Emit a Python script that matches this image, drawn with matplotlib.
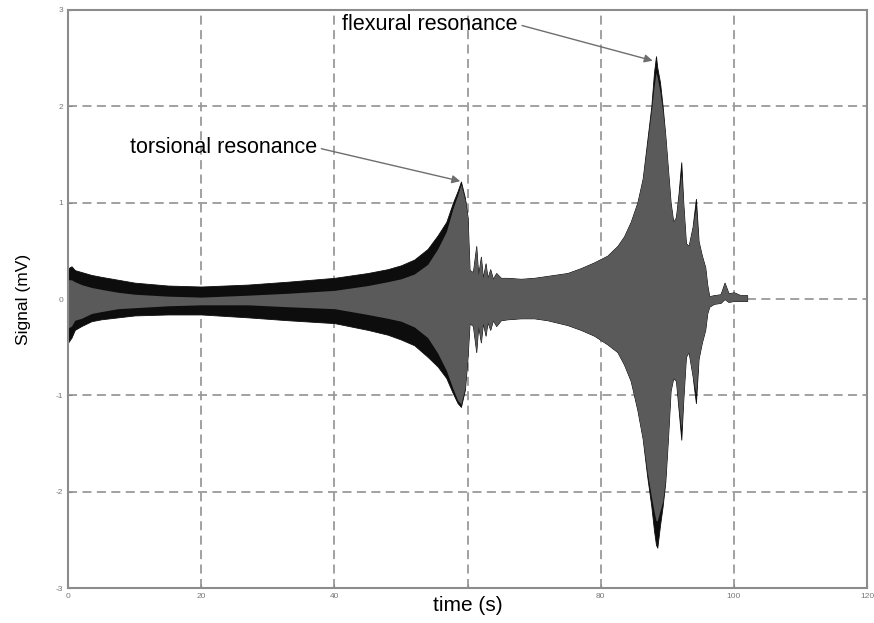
import matplotlib
matplotlib.use("Agg")
import matplotlib.pyplot as plt

# envelope of the recorded signal (outer edge, and inner lighter core)
t = [0.0, 0.5, 1.0, 2.0, 3.5, 5.0, 7.5, 10, 15, 20, 27, 33, 40, 45, 48, 50, 52, 54,
     55.5, 56.8, 57.8, 58.5, 59.0, 59.6, 60.0, 60.3, 60.8, 61.3, 61.6, 62.0, 62.3,
     62.7, 63.0, 63.4, 63.8, 64.3, 65, 66, 68, 70, 72, 75, 77, 79, 81, 82.5, 83.5,
     84.5, 85.5, 86.3, 87.0, 87.6, 88.0, 88.3, 88.5, 88.9, 89.3, 89.7, 90.1, 90.5,
     90.9, 91.3, 91.7, 92.1, 92.4, 92.8, 93.2, 93.8, 94.3, 94.7, 95.2, 95.7, 96.0,
     96.3, 97, 98, 98.6, 99.2, 100, 101, 102]
upper = [0.32, 0.34, 0.30, 0.28, 0.25, 0.23, 0.20, 0.17, 0.14, 0.13, 0.15, 0.18, 0.22,
         0.27, 0.31, 0.35, 0.41, 0.52, 0.66, 0.80, 1.00, 1.12, 1.22, 1.05, 0.85, 0.30,
         0.28, 0.55, 0.25, 0.44, 0.22, 0.37, 0.22, 0.31, 0.21, 0.27, 0.22, 0.22, 0.21,
         0.22, 0.24, 0.27, 0.32, 0.38, 0.45, 0.55, 0.65, 0.80, 1.00, 1.25, 1.65, 2.00,
         2.35, 2.52, 2.40, 2.25, 2.00, 1.70, 1.35, 1.00, 0.80, 0.85, 1.10, 1.42, 1.00,
         0.58, 0.55, 0.75, 1.04, 0.60, 0.45, 0.33, 0.15, 0.03, 0.04, 0.05, 0.17, 0.06,
         0.07, 0.04, 0.04]
lower = [-0.45, -0.40, -0.32, -0.28, -0.23, -0.21, -0.19, -0.17, -0.16, -0.16, -0.19,
         -0.22, -0.25, -0.32, -0.37, -0.42, -0.48, -0.60, -0.70, -0.82, -0.98, -1.08,
         -1.12, -0.94, -0.60, -0.25, -0.28, -0.55, -0.28, -0.45, -0.25, -0.38, -0.24,
         -0.32, -0.22, -0.28, -0.22, -0.21, -0.20, -0.20, -0.22, -0.27, -0.32, -0.38,
         -0.47, -0.55, -0.68, -0.85, -1.15, -1.45, -1.85, -2.15, -2.40, -2.55, -2.58,
         -2.35, -2.15, -1.90, -1.45, -0.95, -0.82, -0.85, -1.15, -1.46, -1.05, -0.60,
         -0.55, -0.80, -1.08, -0.62, -0.45, -0.32, -0.15, -0.08, -0.05, -0.04, 0.00,
         -0.03, -0.02, -0.02, -0.02]
inner_upper = [0.20, 0.20, 0.18, 0.15, 0.12, 0.10, 0.07, 0.05, 0.03, 0.02, 0.04, 0.06,
               0.09, 0.14, 0.18, 0.21, 0.26, 0.36, 0.52, 0.70, 0.94, 1.08, 1.19, 1.03,
               0.85, 0.30, 0.28, 0.55, 0.25, 0.44, 0.22, 0.37, 0.22, 0.31, 0.21, 0.27,
               0.22, 0.22, 0.21, 0.22, 0.24, 0.27, 0.32, 0.38, 0.45, 0.55, 0.65, 0.80,
               1.00, 1.25, 1.62, 1.95, 2.20, 2.35, 2.30, 2.15, 1.95, 1.70, 1.35, 1.00,
               0.80, 0.85, 1.08, 1.30, 1.00, 0.58, 0.55, 0.75, 0.95, 0.60, 0.45, 0.33,
               0.15, 0.03, 0.04, 0.05, 0.17, 0.06, 0.07, 0.04, 0.04]
inner_lower = [-0.30, -0.28, -0.22, -0.20, -0.15, -0.13, -0.10, -0.09, -0.07, -0.06,
               -0.06, -0.08, -0.10, -0.16, -0.20, -0.23, -0.29, -0.40, -0.56, -0.74,
               -0.93, -1.05, -1.09, -0.92, -0.60, -0.25, -0.28, -0.55, -0.28, -0.45,
               -0.25, -0.38, -0.24, -0.32, -0.22, -0.28, -0.22, -0.21, -0.20, -0.20,
               -0.22, -0.27, -0.32, -0.38, -0.47, -0.55, -0.68, -0.85, -1.15, -1.45,
               -1.80, -2.05, -2.20, -2.30, -2.30, -2.20, -2.10, -1.88, -1.45, -0.95,
               -0.82, -0.85, -1.12, -1.35, -1.05, -0.60, -0.55, -0.80, -0.98, -0.62,
               -0.45, -0.32, -0.15, -0.08, -0.05, -0.04, 0.00, -0.03, -0.02, -0.02,
               -0.02]

xticks = [0, 20, 40, 60, 80, 100, 120]
xticklabels = ['0', '20', '40', '', '80', '100', '120']  # 60 sits under the axis label
yticks = [-3, -2, -1, 0, 1, 2, 3]

plt.rcParams['font.family'] = ['Liberation Sans', 'DejaVu Sans']
plt.rcParams['axes.unicode_minus'] = False

fig = plt.figure(figsize=(8.74, 6.23), dpi=100)
ax = fig.add_axes([0.078, 0.056, 0.914, 0.928])

ax.fill_between(t, lower, upper, color='#0d0d0d', linewidth=0.6, edgecolor='#0d0d0d')
ax.fill_between(t, inner_lower, inner_upper, color='#5a5a5a', linewidth=0)

ax.set_xlim(0, 120)
ax.set_ylim(-3, 3)
ax.set_xticks(xticks)
ax.set_xticklabels(xticklabels)
ax.set_yticks(yticks)
ax.tick_params(labelsize=6, labelcolor='#777777', color='#888888',
               direction='in', length=3)

ax.grid(True, color='#9a9a9a', linestyle=(0, (5, 3)), linewidth=1.3)
ax.set_axisbelow(True)
for sp in ax.spines.values():
    sp.set_color('#8c8c8c')
    sp.set_linewidth(1.5)

ax.set_ylabel('Signal (mV)', fontsize=12.5, labelpad=18)
ax.set_xlabel('time (s)', fontsize=15, labelpad=-3)

arrow = dict(arrowstyle='-|>', color='#6e6e6e', lw=1.0, mutation_scale=12,
             relpos=(1.0, 0.5), shrinkA=1, shrinkB=1)
ax.annotate('torsional resonance', xy=(59.1, 1.22), xytext=(9.3, 1.57),
            fontsize=15.5, va='center', ha='left', arrowprops=arrow)
ax.annotate('flexural resonance', xy=(88.0, 2.47), xytext=(41.2, 2.85),
            fontsize=15.5, va='center', ha='left', arrowprops=arrow)

fig.savefig('out.png', dpi=100)
